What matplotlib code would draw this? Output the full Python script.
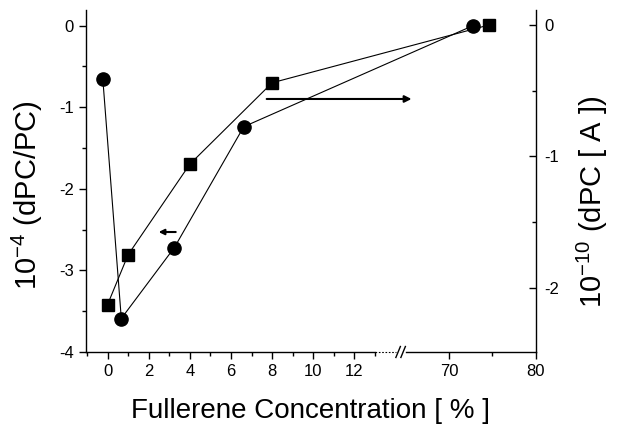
import numpy as np
import matplotlib
matplotlib.use('Agg')
import matplotlib.pyplot as plt

plt.rcParams['font.family'] = ['Liberation Sans', 'DejaVu Sans']
plt.rcParams['mathtext.fontset'] = 'custom'
plt.rcParams['mathtext.rm'] = 'Liberation Sans'
plt.rcParams['mathtext.it'] = 'Liberation Sans'

# circles -> left axis (10^-4 dPC/PC), squares -> right axis (10^-10 dPC)
circ_x = [-0.23, 0.67, 3.25, 6.62, 72.8]
circ_y = [-0.65, -3.59, -2.72, -1.24, 0.0]
sq_x = [0.0, 1.0, 4.0, 8.0, 74.6]
sq_y = [-2.13, -1.75, -1.06, -0.44, 0.0]

xticks = [0, 2, 4, 6, 8, 10, 12, 70, 80]
xminor = [-1, 1, 3, 5, 7, 9, 11, 13, 75]
yticks_left = [0, -1, -2, -3, -4]
yticks_right = [0, -1, -2]

# broken x axis: 14 .. 65 is squeezed out, right part compressed
brk_lo, brk_hi = 14.0, 65.0
gap = 0.486
ratio = 0.4217
xp = [-100.0, brk_lo, brk_hi, 200.0]
fp = [-100.0, brk_lo, brk_lo + gap, brk_lo + gap + (200.0 - brk_hi) * ratio]

def fwd(x):
    return np.interp(x, xp, fp)

def inv(y):
    return np.interp(y, fp, xp)

xmin, xmax = -1.05, 80.0

fig = plt.figure(figsize=(6.18, 4.28), dpi=100)
ax = fig.add_axes([0.139, 0.1776, 0.728, 0.799])
ax.set_xscale('function', functions=(fwd, inv))
ax.set_xlim(xmin, xmax)
ax.set_ylim(-4, 0.19)

ax2 = ax.twinx()
ax2.set_ylim(-2.49, 0.114)

ax.plot(circ_x, circ_y, '-o', color='black', lw=0.8, ms=9.5, clip_on=False, zorder=3)
ax2.plot(sq_x, sq_y, '-s', color='black', lw=0.8, ms=8.5, clip_on=False, zorder=3)

ax.set_xticks(xticks)
ax.set_xticks(xminor, minor=True)
ax.set_xticklabels([str(t) for t in xticks])
ax.set_yticks(yticks_left)
ax.set_yticks(np.arange(-3.5, 0.1, 1.0), minor=True)
ax.set_yticklabels([str(t) for t in yticks_left])
ax2.set_yticks(yticks_right)
ax2.set_yticks([-0.5, -1.5], minor=True)
ax2.set_yticklabels([str(t) for t in yticks_right])

ax.tick_params(which='major', direction='out', length=5, width=1, labelsize=12)
ax.tick_params(which='minor', direction='out', length=3, width=1)
ax2.tick_params(which='major', direction='in', length=5, width=1, labelsize=12, pad=6)
ax2.tick_params(which='minor', direction='in', length=3, width=1)

for a in (ax, ax2):
    a.spines['top'].set_visible(False)
    for s in a.spines.values():
        s.set_linewidth(1.0)
ax.spines['right'].set_visible(False)
ax2.spines['left'].set_visible(False)
ax2.spines['bottom'].set_visible(False)
ax.spines['bottom'].set_visible(False)

# bottom axis line with break
def frac(x):
    return (fwd(x) - fwd(xmin)) / (fwd(xmax) - fwd(xmin))

tr = ax.transAxes
ax.plot([0, frac(13)], [0, 0], color='black', lw=1.0, transform=tr, clip_on=False)
ax.plot([frac(13), frac(brk_lo)], [0, 0], color='black', lw=0.8, ls=(0, (1.5, 1.5)),
        transform=tr, clip_on=False)
ax.plot([frac(brk_hi), 1], [0, 0], color='black', lw=1.0, transform=tr, clip_on=False)
b0, b1 = frac(brk_lo), frac(brk_hi)
w = (b1 - b0) / 2
for c in (b0 + w * 0.5, b0 + w * 1.5):
    ax.plot([c - w * 0.45, c + w * 0.45], [-0.016, 0.016], color='black', lw=1.0,
            transform=tr, clip_on=False)

# arrows pointing at the axes
ax.annotate('', xy=(66.0, -0.90), xytext=(7.6, -0.90),
            arrowprops=dict(arrowstyle='-|>', color='black', lw=1.5, mutation_scale=10))
ax.annotate('', xy=(2.35, -2.53), xytext=(3.45, -2.53),
            arrowprops=dict(arrowstyle='-|>', color='black', lw=1.5, mutation_scale=8))

ax.set_xlabel('Fullerene Concentration [ % ]', fontsize=20)
ax.xaxis.set_label_coords(0.5, -0.135)
ax.set_ylabel('$10^{-4}$ (dPC/PC)', fontsize=21)
ax.yaxis.set_label_coords(-0.09, 0.46)
ax2.set_ylabel('$10^{-10}$ (dPC [ A ])', fontsize=21)
ax2.yaxis.set_label_coords(1.087, 0.44)

fig.savefig('out.png', dpi=100)
